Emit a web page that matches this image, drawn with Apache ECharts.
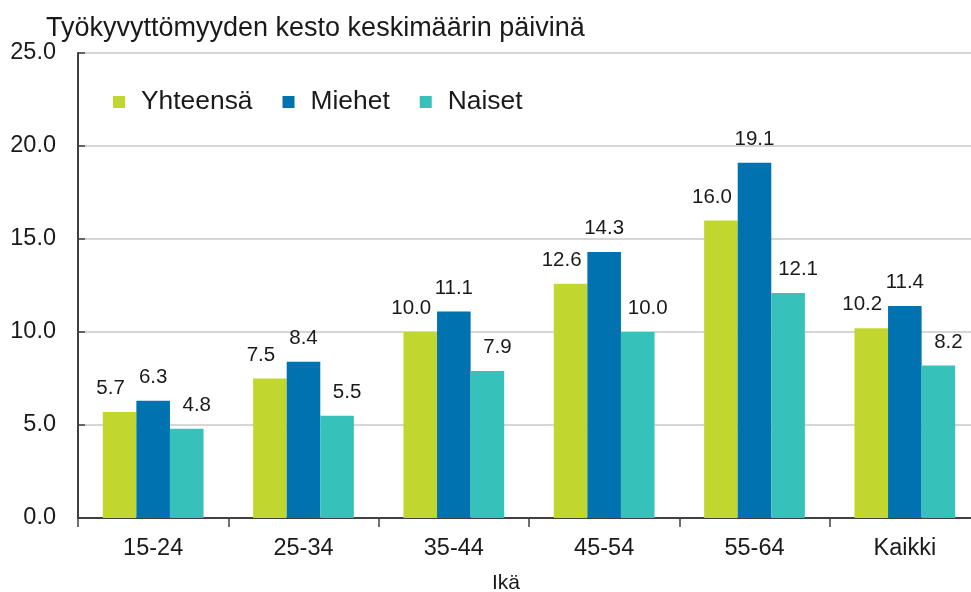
<!DOCTYPE html>
<html>
<head>
<meta charset="utf-8">
<script src="https://cdn.jsdelivr.net/npm/echarts@6/dist/echarts.min.js"></script>
<style>
  html, body { margin: 0; padding: 0; background: #fff; }
  #main { width: 971px; height: 592px; }
</style>
</head>
<body>
<div id="main"></div>
<script>
// ikäryhmät ja sarjat
const ageGroups = ['15-24', '25-34', '35-44', '45-54', '55-64', 'Kaikki'];
const totalDays = [5.7, 7.5, 10.0, 12.6, 16.0, 10.2];
const menDays = [6.3, 8.4, 11.1, 14.3, 19.1, 11.4];
const womenDays = [4.8, 5.5, 7.9, 10.0, 12.1, 8.2];
const yTicks = [0, 5, 10, 15, 20, 25];

const font = 'Liberation Sans, Arial, sans-serif';

const myChart = echarts.init(document.getElementById('main'));

function barSeries(name, data, color, dx) {
  return {
    name: name,
    type: 'bar',
    data: data,
    barGap: '0%',
    barCategoryGap: '33%',
    itemStyle: { color: color },
    label: {
      show: true,
      position: 'top',
      distance: 13,
      offset: [dx, 0],
      color: '#1a1a1a',
      fontFamily: font,
      fontSize: 20.5,
      formatter: p => p.value.toFixed(1)
    }
  };
}

const option = {
  animation: false,
  title: {
    text: 'Työkyvyttömyyden kesto keskimäärin päivinä',
    left: 41,
    top: 10,
    textStyle: { fontFamily: font, fontSize: 27, fontWeight: 'normal', color: '#1a1a1a' }
  },
  legend: {
    left: 108,
    top: 84,
    itemWidth: 12,
    itemHeight: 12,
    itemGap: 30,
    icon: 'rect',
    textStyle: { fontFamily: font, fontSize: 26.4, color: '#1a1a1a', padding: [0, 0, 0, 11] }
  },
  grid: { left: 78, right: -9, top: 53, bottom: 74, containLabel: false, outerBoundsMode: 'none' },
  xAxis: {
    type: 'category',
    data: ageGroups,
    name: 'Ikä',
    nameLocation: 'middle',
    nameGap: 55,
    nameTextStyle: { fontFamily: font, fontSize: 21, color: '#1a1a1a', padding: [0, 46, 0, 0] },
    axisLine: { lineStyle: { color: '#404040', width: 2 } },
    axisTick: { show: true, length: 9, lineStyle: { color: '#404040', width: 1.5 } },
    axisLabel: { fontFamily: font, fontSize: 23.5, color: '#1a1a1a', margin: 19 }
  },
  yAxis: {
    type: 'value',
    min: yTicks[0],
    max: yTicks[yTicks.length - 1],
    interval: yTicks[1] - yTicks[0],
    axisLine: { show: true, lineStyle: { color: '#404040', width: 2 } },
    axisTick: { show: true, inside: true, length: 7, lineStyle: { color: '#404040', width: 1.5 } },
    axisLabel: {
      fontFamily: font, fontSize: 23.5, color: '#1a1a1a', margin: 22,
      formatter: v => v.toFixed(1)
    },
    splitLine: { lineStyle: { color: '#c8c8c8', width: 1.5 } }
  },
  series: [
    barSeries('Yhteensä', totalDays, '#c1d72f', -9),
    barSeries('Miehet', menDays, '#0072af', 0),
    barSeries('Naiset', womenDays, '#36c1ba', 10)
  ]
};

myChart.setOption(option);
</script>
</body>
</html>
